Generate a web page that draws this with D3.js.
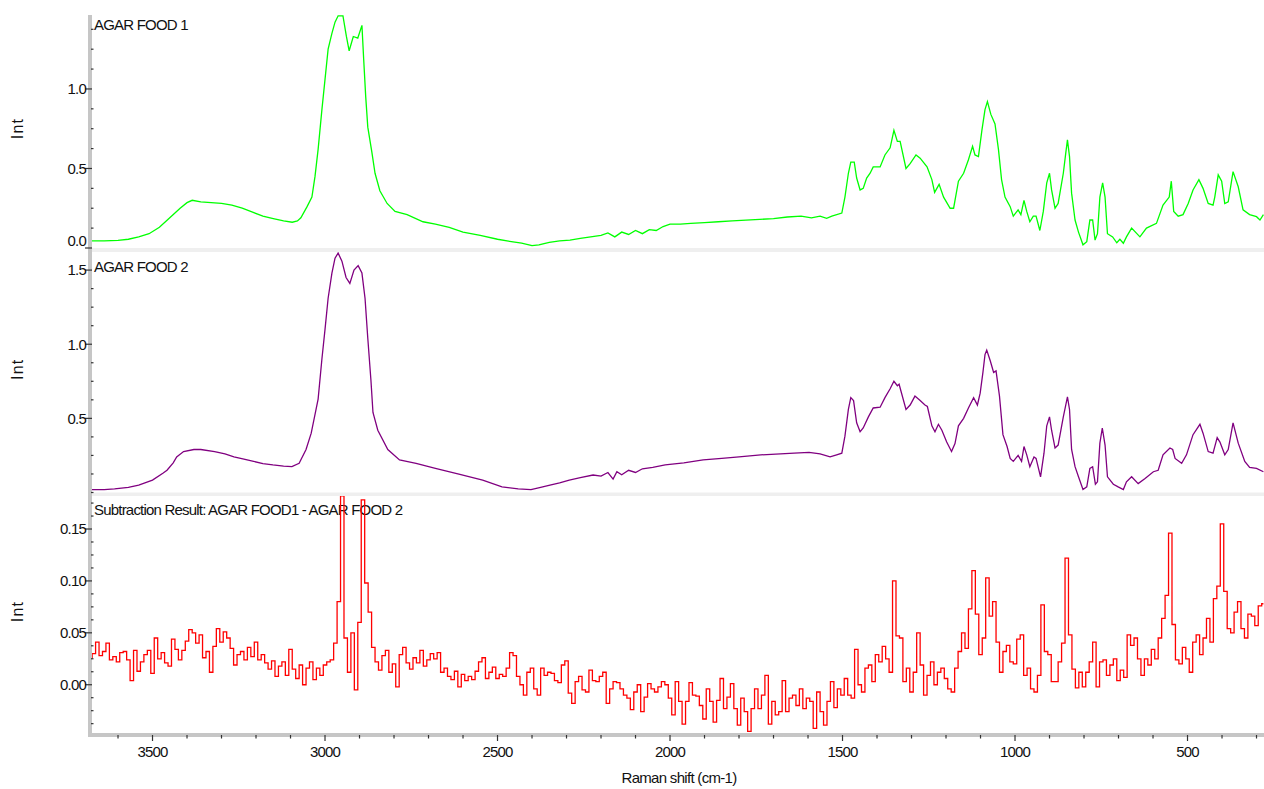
<!DOCTYPE html>
<html><head><meta charset="utf-8">
<script src="https://cdn.jsdelivr.net/npm/d3@7"></script>
<style>
html,body{margin:0;padding:0;background:#fff;}
svg{display:block;font-family:"Liberation Sans",Arial,sans-serif;}
</style></head><body>
<svg id="chart" width="1264" height="789"></svg>
<script>
// ---------- DATA ----------
const food1Shift = [3680,3640,3600,3570,3540,3510,3480,3450,3420,3400,3385,3360,3330,3300,3270,3240,3210,3180,3150,3120,3095,3080,3070,3052,3038,3029,3020,3009,3000,2991,2980,2971,2962,2948,2938,2930,2918,2905,2893,2888,2882,2876,2864,2855,2841,2820,2797,2762,2716,2680,2640,2600,2550,2500,2460,2430,2400,2380,2350,2320,2290,2260,2230,2200,2180,2160,2140,2120,2100,2080,2060,2040,2020,2000,1970,1940,1900,1860,1820,1780,1740,1700,1660,1620,1590,1565,1546,1531,1502,1493,1483,1476,1466,1459,1449,1440,1430,1420,1411,1391,1377,1362,1351,1341,1333,1316,1304,1287,1275,1255,1241,1233,1220,1207,1188,1178,1164,1149,1135,1123,1116,1106,1096,1087,1080,1070,1058,1048,1039,1029,1014,1005,991,983,974,966,957,947,939,928,918,908,900,894,884,875,860,853,848,842,836,826,816,803,792,783,775,768,761,754,746,739,732,717,705,696,686,677,662,638,619,590,571,553,547,540,527,513,498,484,467,455,440,426,421,411,401,392,382,368,353,339,320,300,290,280];
const food1Int = [0.045,0.045,0.048,0.055,0.070,0.090,0.130,0.190,0.250,0.285,0.300,0.290,0.285,0.280,0.270,0.250,0.225,0.200,0.185,0.170,0.162,0.170,0.190,0.260,0.320,0.450,0.620,0.870,1.060,1.250,1.350,1.420,1.460,1.460,1.330,1.240,1.330,1.320,1.400,1.190,0.950,0.760,0.600,0.470,0.360,0.280,0.230,0.210,0.165,0.150,0.130,0.100,0.080,0.055,0.040,0.030,0.015,0.020,0.035,0.045,0.050,0.060,0.070,0.080,0.095,0.070,0.100,0.085,0.110,0.090,0.115,0.110,0.135,0.150,0.150,0.155,0.160,0.165,0.170,0.175,0.180,0.185,0.195,0.200,0.190,0.200,0.187,0.200,0.220,0.320,0.470,0.540,0.540,0.440,0.365,0.375,0.440,0.470,0.510,0.510,0.585,0.630,0.740,0.670,0.670,0.500,0.530,0.585,0.565,0.510,0.430,0.350,0.400,0.320,0.250,0.250,0.420,0.470,0.555,0.640,0.585,0.575,0.740,0.870,0.920,0.840,0.780,0.620,0.430,0.320,0.260,0.200,0.240,0.210,0.300,0.230,0.165,0.200,0.200,0.110,0.230,0.410,0.470,0.365,0.250,0.280,0.470,0.595,0.680,0.575,0.345,0.176,0.100,0.020,0.040,0.176,0.176,0.050,0.090,0.320,0.410,0.320,0.090,0.070,0.033,0.055,0.030,0.070,0.125,0.070,0.125,0.155,0.270,0.320,0.420,0.230,0.200,0.210,0.280,0.365,0.430,0.375,0.280,0.270,0.320,0.460,0.420,0.280,0.290,0.480,0.385,0.240,0.210,0.197,0.176,0.210];

const food2Shift = [3680,3640,3610,3570,3540,3500,3470,3458,3440,3430,3410,3380,3360,3320,3290,3264,3235,3207,3180,3151,3120,3096,3075,3055,3040,3026,3020,3009,3000,2991,2980,2971,2962,2951,2939,2928,2916,2904,2893,2884,2876,2867,2861,2847,2818,2784,2736,2680,2612,2543,2487,2440,2403,2375,2348,2320,2292,2260,2223,2200,2180,2165,2154,2140,2120,2100,2080,2050,2014,1960,1904,1850,1800,1737,1680,1640,1597,1565,1536,1517,1502,1493,1483,1476,1468,1459,1449,1440,1425,1411,1391,1377,1362,1351,1341,1336,1316,1304,1290,1275,1261,1254,1241,1232,1222,1212,1198,1184,1174,1164,1149,1135,1120,1109,1101,1093,1087,1082,1072,1062,1055,1045,1035,1023,1014,1005,991,981,974,966,957,945,939,926,916,908,900,894,884,875,860,848,842,836,826,816,803,792,783,775,767,761,754,747,739,732,715,701,686,677,662,643,623,599,585,571,551,543,536,517,503,484,464,455,440,426,414,406,392,382,368,353,334,320,300,280];
const food2Int = [0.020,0.020,0.025,0.035,0.050,0.084,0.130,0.150,0.200,0.240,0.276,0.290,0.290,0.276,0.260,0.240,0.225,0.210,0.195,0.186,0.178,0.174,0.197,0.290,0.400,0.560,0.630,0.900,1.100,1.310,1.480,1.580,1.615,1.560,1.450,1.410,1.500,1.530,1.480,1.310,1.040,0.760,0.540,0.420,0.290,0.220,0.197,0.163,0.124,0.084,0.038,0.025,0.020,0.035,0.050,0.065,0.084,0.100,0.118,0.110,0.135,0.090,0.140,0.120,0.150,0.135,0.160,0.170,0.186,0.200,0.220,0.230,0.240,0.254,0.260,0.265,0.270,0.260,0.240,0.254,0.265,0.380,0.560,0.640,0.620,0.470,0.410,0.435,0.510,0.570,0.575,0.640,0.700,0.750,0.720,0.730,0.560,0.590,0.650,0.620,0.590,0.580,0.450,0.410,0.460,0.420,0.340,0.276,0.330,0.450,0.500,0.570,0.640,0.590,0.670,0.810,0.930,0.960,0.890,0.810,0.820,0.650,0.390,0.310,0.230,0.210,0.250,0.210,0.310,0.254,0.174,0.240,0.230,0.106,0.265,0.450,0.510,0.420,0.300,0.320,0.510,0.645,0.560,0.290,0.174,0.106,0.020,0.038,0.163,0.174,0.056,0.072,0.333,0.435,0.320,0.106,0.056,0.038,0.020,0.072,0.106,0.060,0.095,0.140,0.150,0.254,0.300,0.290,0.230,0.197,0.254,0.390,0.460,0.400,0.276,0.265,0.370,0.340,0.254,0.290,0.470,0.333,0.210,0.170,0.163,0.140];

// Subtraction result, sampled every 10 cm-1 from 3680 down to 280
const diffStartShift = 3680;
const diffStepShift = 10;
const diffInt = [
 0.026,0.030,0.041,0.028,0.032,0.040,0.024,0.027,0.022,0.031,
 0.032,0.024,0.004,0.033,0.013,0.022,0.029,0.033,0.011,0.045,
 0.025,0.031,0.021,0.018,0.044,0.034,0.024,0.033,0.042,0.053,
 0.050,0.040,0.048,0.026,0.032,0.012,0.037,0.054,0.041,0.051,
 0.045,0.035,0.019,0.029,0.032,0.024,0.036,0.027,0.041,0.024,
 0.029,0.021,0.015,0.023,0.008,0.018,0.022,0.009,0.034,0.015,
 0.006,0.019,0.000,0.016,0.022,0.005,0.016,0.009,0.019,0.022,
 0.024,0.040,0.080,0.182,0.045,0.012,0.050,-0.005,0.060,0.178,
 0.098,0.070,0.036,0.022,0.014,0.028,0.033,0.012,0.020,-0.002,
 0.029,0.036,0.021,0.015,0.026,0.021,0.033,0.018,0.024,0.030,
 0.025,0.031,0.012,0.016,0.008,0.005,0.013,-0.002,0.010,0.004,
 0.008,0.005,0.013,0.022,0.026,0.006,0.012,0.017,0.006,0.010,
 0.008,0.016,0.031,0.028,0.008,0.000,-0.010,0.012,0.016,-0.004,
 -0.010,0.016,0.009,0.012,0.011,0.004,0.002,0.019,0.023,-0.008,
 -0.018,0.003,0.008,-0.005,-0.007,0.014,0.004,0.003,0.008,0.012,
 -0.018,-0.004,0.003,0.002,-0.004,-0.010,-0.013,-0.024,-0.007,0.000,
 -0.026,-0.012,0.001,-0.004,-0.007,-0.002,0.003,0.000,-0.013,-0.029,
 0.003,-0.016,-0.038,-0.016,0.002,-0.010,-0.011,-0.020,-0.033,-0.004,
 -0.016,-0.036,-0.015,0.006,-0.023,-0.012,0.001,-0.023,-0.039,-0.013,
 -0.026,-0.045,-0.023,-0.004,-0.023,-0.010,0.009,-0.038,-0.016,-0.029,
 -0.026,0.004,-0.026,-0.013,-0.010,-0.020,-0.004,-0.023,-0.013,-0.016,
 -0.042,-0.007,-0.026,-0.039,-0.016,0.003,-0.022,-0.004,-0.010,0.006,
 -0.010,-0.013,0.034,0.000,-0.007,0.016,0.019,0.003,0.029,0.022,
 0.037,0.025,0.012,0.100,0.047,0.045,0.003,0.016,-0.007,0.012,
 0.050,0.019,-0.010,0.009,0.022,0.000,0.012,0.016,0.006,-0.004,
 -0.007,0.016,0.032,0.050,0.035,0.073,0.110,0.068,0.029,0.045,
 0.103,0.066,0.080,0.041,0.012,0.032,0.038,0.022,0.020,0.044,
 0.048,0.009,0.016,-0.004,-0.007,0.009,0.077,0.032,0.029,0.003,
 0.003,0.022,0.040,0.122,0.048,0.015,-0.003,0.012,-0.002,0.012,
 0.022,0.041,-0.002,0.022,0.024,0.009,0.019,0.025,0.004,0.014,
 0.007,0.048,0.038,0.045,0.025,0.009,0.025,0.019,0.034,0.025,
 0.045,0.064,0.086,0.146,0.058,0.024,0.020,0.036,0.025,0.012,
 0.041,0.048,0.029,0.045,0.064,0.041,0.083,0.095,0.155,0.090,
 0.054,0.050,0.070,0.080,0.054,0.045,0.068,0.066,0.057,0.076,
 0.078];
const diffShift = diffInt.map((_, i) => diffStartShift - i * diffStepShift);

const xTickValues = [3500, 3000, 2500, 2000, 1500, 1000, 500];
const xTickLabels = ["3500", "3000", "2500", "2000", "1500", "1000", "500"];
const panelTitles = ["AGAR FOOD 1", "AGAR FOOD 2", "Subtraction Result: AGAR FOOD1 - AGAR FOOD 2"];
const yTicks1 = [0.0, 0.5, 1.0];
const yTicks2 = [0.5, 1.0, 1.5];
const yTicks3 = [0.00, 0.05, 0.10, 0.15];
const yAxisLabel = "Int";
const xAxisLabel = "Raman shift (cm-1)";

// ---------- LAYOUT ----------
const W = 1264, H = 789;
const plotLeft = 91, plotRight = 1264;
const svg = d3.select("#chart");
const x = d3.scaleLinear().domain([3678.3, 278.3]).range([plotLeft, plotRight]);

const panels = [
  {top: 15,  bottom: 248,   domain: [0, 1.465],        color: "#00ff00", shift: food1Shift, val: food1Int, title: panelTitles[0], ticks: yTicks1, fmt: d3.format(".1f"), minor: 0.125, titleY: 29.5, curve: d3.curveLinear},
  {top: 252, bottom: 492.5, domain: [0, 1.622],        color: "#800080", shift: food2Shift, val: food2Int, title: panelTitles[1], ticks: yTicks2, fmt: d3.format(".1f"), minor: 0.125, titleY: 272, curve: d3.curveLinear},
  {top: 496, bottom: 733,   domain: [-0.0465, 0.1818], color: "#ff0000", shift: diffShift,  val: diffInt,  title: panelTitles[2], ticks: yTicks3, fmt: d3.format(".2f"), minor: 0.0125, titleY: 515, curve: d3.curveStep}
];

svg.append("rect").attr("width", W).attr("height", H).attr("fill", "#fff");

const defs = svg.append("defs");

panels.forEach((p, i) => {
  const y = d3.scaleLinear().domain(p.domain).range([p.bottom, p.top]);
  defs.append("clipPath").attr("id", "clip" + i)
    .append("rect").attr("x", plotLeft).attr("y", p.top)
    .attr("width", plotRight - plotLeft).attr("height", p.bottom - p.top);

  // title
  svg.append("text").attr("x", 94).attr("y", p.titleY)
    .attr("font-size", 15).attr("letter-spacing", "-0.8px").attr("fill", "#111")
    .text(p.title);

  // line
  const pts = p.shift.map((s, k) => [s, p.val[k]]);
  const line = d3.line().x(d => x(d[0])).y(d => y(d[1])).curve(p.curve);
  svg.append("path").datum(pts)
    .attr("clip-path", "url(#clip" + i + ")")
    .attr("fill", "none").attr("stroke", p.color)
    .attr("stroke-width", 1.3).attr("stroke-linejoin", "miter")
    .attr("d", line);

  // minor ticks
  const minors = [];
  const start = Math.ceil(p.domain[0] / p.minor - 1e-9);
  for (let k = start; k * p.minor <= p.domain[1] + 1e-9; k++) {
    const v = k * p.minor;
    if (!p.ticks.some(t => Math.abs(t - v) < 1e-9)) minors.push(v);
  }
  p.minors = minors;
  p.y = y;

  // y axis label
  svg.append("text")
    .attr("transform", `translate(23,${(p.top + p.bottom) / 2 - 3}) rotate(-90)`)
    .attr("text-anchor", "middle").attr("font-size", 16)
    .attr("letter-spacing", "1.2px").attr("fill", "#111")
    .text(yAxisLabel);
});

// separators between panels
svg.append("rect").attr("x", 88).attr("y", 248).attr("width", plotRight - 88).attr("height", 4).attr("fill", "#efefef");
svg.append("rect").attr("x", 88).attr("y", 492.5).attr("width", plotRight - 88).attr("height", 3.5).attr("fill", "#efefef");

// left axis bar & bottom axis bar
svg.append("rect").attr("x", 88).attr("y", 15).attr("width", 4).attr("height", 722).attr("fill", "#c6c6c6");
svg.append("rect").attr("x", 88).attr("y", 733).attr("width", plotRight - 88).attr("height", 4).attr("fill", "#c6c6c6");

// y ticks and labels
panels.forEach(p => {
  const y = p.y;
  p.minors.forEach(v => {
    svg.append("line").attr("x1", 91).attr("x2", 93.5)
      .attr("y1", y(v)).attr("y2", y(v)).attr("stroke", "#333").attr("stroke-width", 1.2);
  });
  p.ticks.forEach(v => {
    const yy = y(v);
    svg.append("line").attr("x1", 85).attr("x2", 92)
      .attr("y1", yy).attr("y2", yy).attr("stroke", "#333").attr("stroke-width", 1.2);
    const cy = Math.min(yy, p.bottom - 7);
    svg.append("text").attr("x", 86).attr("y", cy)
      .attr("dy", "0.36em").attr("text-anchor", "end")
      .attr("font-size", 15).attr("letter-spacing", "-0.8px").attr("fill", "#111")
      .text(p.fmt(v));
  });
});

// x axis ticks
const xMinor = [];
for (let v = 3600; v >= 300; v -= 100) if (!xTickValues.includes(v)) xMinor.push(v);
xMinor.forEach(v => {
  svg.append("line").attr("x1", x(v)).attr("x2", x(v)).attr("y1", 735).attr("y2", 738.5)
    .attr("stroke", "#333").attr("stroke-width", 1.2);
});
xTickValues.forEach((v, i) => {
  svg.append("line").attr("x1", x(v)).attr("x2", x(v)).attr("y1", 735).attr("y2", 741)
    .attr("stroke", "#333").attr("stroke-width", 1.2);
  svg.append("text").attr("x", x(v)).attr("y", 757).attr("text-anchor", "middle")
    .attr("font-size", 15).attr("letter-spacing", "-0.8px").attr("fill", "#111")
    .text(xTickLabels[i]);
});

svg.append("text").attr("x", 679).attr("y", 783).attr("text-anchor", "middle")
  .attr("font-size", 15).attr("letter-spacing", "-0.7px").attr("fill", "#111")
  .text(xAxisLabel);
</script>
</body></html>
